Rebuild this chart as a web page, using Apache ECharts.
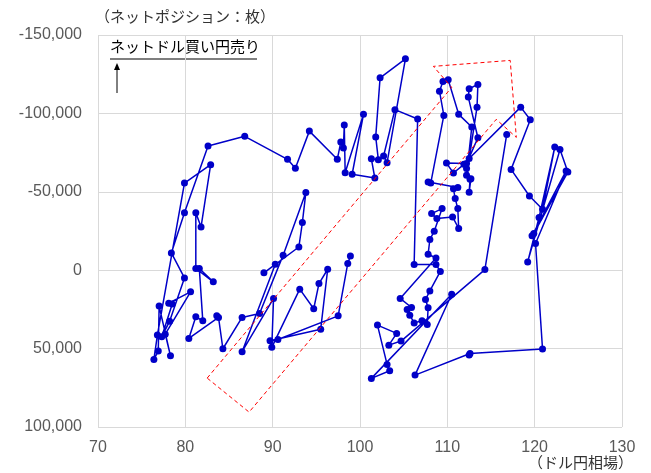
<!DOCTYPE html>
<html>
<head>
<meta charset="utf-8">
<script src="https://cdn.jsdelivr.net/npm/echarts@6/dist/echarts.min.js"></script>
<style>
    html, body { margin: 0; padding: 0; background: #fff; }
    #chart { width: 651px; height: 473px; }
</style>
</head>
<body>
<div id="chart"></div>
<script>
// [ドル円相場, ネットポジション(枚)] の軌跡、区間ごとに分けて保持
var segA = [[98.9,-9100],[98.6,-4300],[97.5,29100],[90.6,44200],[89.7,45000],[95.5,37600],[96.3,-600],[95.3,8500],[94.7,24600],[93.1,12100],[89.9,49200],[90.1,18000],[86.5,52000],[90.3,-3800],[89.0,1700],[93.0,-14800],[93.4,-30400],[93.8,-49500],[91.2,-9600],[88.5,27600],[86.5,30100],[84.3,50100]];
var segB = [[83.8,30100],[83.6,29100],[80.4,43500],[81.2,29700],[82.0,32300],[81.6,-1100],[83.2,7400],[81.2,-1100],[81.2,-36700],[81.8,-27600],[82.9,-67300],[79.9,-55600],[76.8,41400],[76.4,56900],[76.9,51600],[77.0,22900],[78.3,54600],[77.7,40800],[80.6,13800],[78.1,21000],[78.5,21600],[77.3,42500],[78.2,32500],[79.9,4900],[78.4,-11000],[79.9,-36700],[82.6,-79200],[86.8,-85400]];
var segC = [[91.7,-70700],[92.6,-65000],[94.2,-88700],[97.4,-70700],[97.8,-81700],[98.1,-77900],[98.2,-92600],[98.3,-62200],[100.4,-99400],[99.1,-61200],[101.7,-58800],[101.3,-71000],[102.1,-70500],[101.8,-85000],[102.3,-122700],[105.2,-134800],[103.1,-68600],[102.7,-72800],[104.0,-102400],[106.6,-96400],[106.2,-3600],[108.7,-3600],[109.2,800],[108.0,13200],[107.5,18700],[107.8,24000],[107.7,34600],[107.1,32300],[106.2,33600],[105.7,28700],[105.4,25000],[105.9,23800],[104.6,18000],[108.7,-7800],[107.8,-10200],[108.0,-19600],[108.5,-24800],[109.4,-39300]];
var segD = [[108.2,-36100],[108.8,-32900],[110.6,-34000],[111.3,-26600],[111.2,-39300],[110.9,-45700],[110.7,-52000],[111.2,-52700],[107.8,-56200],[108.1,-55600],[109.6,-98700],[109.1,-114200],[109.5,-120400],[110.1,-121500],[111.3,-99400],[112.8,-91300],[112.2,-60500],[112.7,-58400],[112.5,-49700],[112.6,-58000],[112.2,-64800],[111.9,-67500],[110.7,-62000],[109.9,-68300],[112.2,-68000],[113.5,-84500],[112.4,-110400],[112.5,-115700],[113.5,-118500],[113.4,-104000],[112.5,-71200],[118.4,-104000],[119.5,-96000]];
var segE = [[117.3,-64300],[119.4,-47300],[120.9,-38900],[122.3,-78500],[120.5,-33600],[119.2,-5300],[122.9,-77000],[123.8,-62600],[119.9,-23400],[119.7,-21900],[123.6,-63300],[120.1,-17000],[120.9,50300],[112.6,53100],[112.5,54100],[106.3,66900],[110.5,15300],[101.3,69000],[103.4,64100],[103.1,60100],[102.0,35000],[104.2,40300],[103.3,47800],[104.7,45200],[114.3,-400],[116.8,-86600]];

// 赤い点線の矢印（データ座標）
var zone = [[82.5,68800],[110.5,-116600],[108.4,-130000],[117.2,-133800],[117.9,-84700],[115.6,-96200],[87.3,90500],[82.5,68800]];

var xTicks = { min: 70, max: 130, step: 10 };
var yTicks = { min: -150000, max: 100000, step: 50000 };

var path = segA.concat(segB, segC, segD, segE);

var jp = '"Noto Sans CJK JP", sans-serif';
var num = '"Liberation Sans", Arial, sans-serif';
var grey = '#595959';
var blue = '#0000c8';

var chart = echarts.init(document.getElementById('chart'));

chart.setOption({
    animation: false,
    backgroundColor: '#fff',
    grid: { left: 98, right: 29, top: 35, bottom: 46 },
    xAxis: {
        type: 'value',
        min: xTicks.min, max: xTicks.max, interval: xTicks.step,
        axisLine: { show: false },
        axisTick: { show: false },
        axisLabel: { color: grey, fontSize: 16, fontFamily: num, margin: 13 },
        splitLine: { lineStyle: { color: '#d9d9d9', width: 1 } }
    },
    yAxis: {
        type: 'value',
        inverse: true,
        min: yTicks.min, max: yTicks.max, interval: yTicks.step,
        axisLine: { show: false },
        axisTick: { show: false },
        axisLabel: {
            color: grey, fontSize: 16, fontFamily: num, margin: 16,
            formatter: function (v) { return v.toLocaleString('en-US'); }
        },
        splitLine: { lineStyle: { color: '#d9d9d9', width: 1 } }
    },
    series: [
        {
            type: 'line',
            data: path,
            symbol: 'circle',
            symbolSize: 7,
            itemStyle: { color: blue },
            lineStyle: { color: blue, width: 1.5 },
            z: 2
        },
        {
            type: 'line',
            data: zone,
            symbol: 'none',
            lineStyle: { color: '#ff0000', width: 1, type: [4, 3] },
            z: 3
        }
    ],
    graphic: [
        {
            type: 'text', left: 95, top: 9,
            style: { text: '（ネットポジション：枚）', font: '15px ' + jp, fill: '#333' }
        },
        {
            type: 'text', right: 18, top: 455,
            style: { text: '（ドル円相場）', font: '15px ' + jp, fill: '#333' }
        },
        {
            type: 'text', left: 110, top: 39,
            style: { text: 'ネットドル買い円売り', font: '15px ' + jp, fill: '#000' }
        },
        {
            type: 'line',
            shape: { x1: 110, y1: 59, x2: 257, y2: 59 },
            style: { stroke: '#000', lineWidth: 1.2 }
        },
        {
            type: 'line',
            shape: { x1: 117, y1: 93, x2: 117, y2: 68 },
            style: { stroke: '#000', lineWidth: 1 }
        },
        {
            type: 'polygon',
            shape: { points: [[117, 63], [114, 70], [120, 70]] },
            style: { fill: '#000' }
        }
    ]
});
</script>
</body>
</html>
